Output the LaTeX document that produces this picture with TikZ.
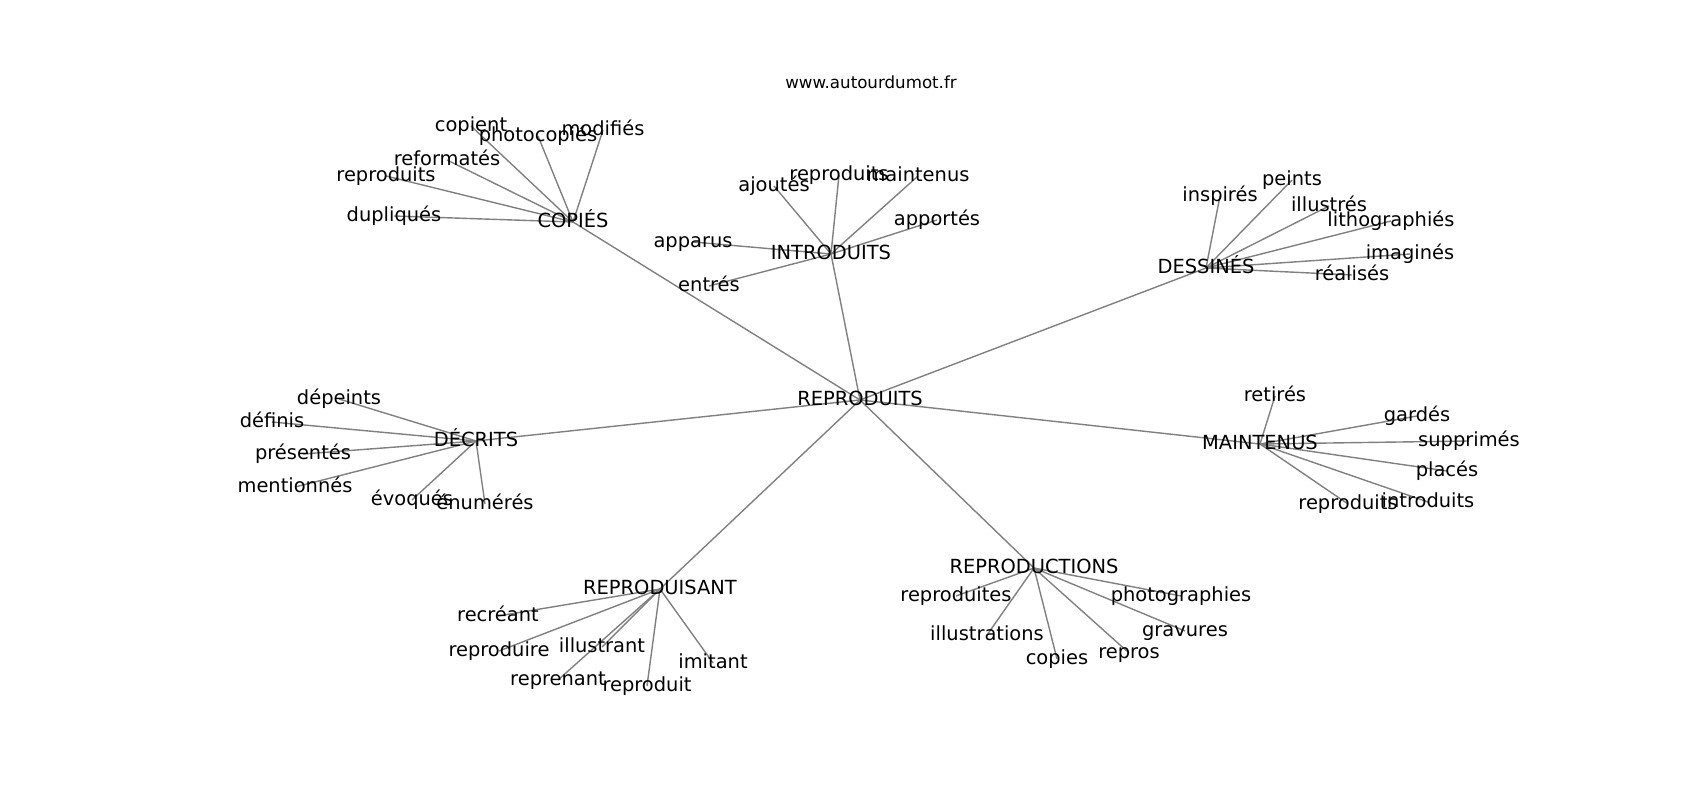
\documentclass[tikz,border=0pt]{standalone}
\usepackage{fontspec}
\setmainfont{DejaVu Sans}
\usetikzlibrary{backgrounds}
\tikzset{
  lbl/.style={inner sep=0pt, text height=14.8pt, text depth=4.6pt, font=\fontsize{19.44}{23}\selectfont, text=black},
  ttl/.style={inner sep=0pt, font=\fontsize{16.67}{20}\selectfont, text=black},
  edge/.style={draw=gray, line width=1.4pt}
}
\begin{document}
\begin{tikzpicture}[x=1pt,y=-1pt]
\useasboundingbox (0,0) rectangle (1700,800);
\node[ttl] (title) at (871,82) {www.autourdumot.fr};
\begin{scope}[yshift=-3pt]
% center
\node[lbl] (c) at (860,397) {REPRODUITS};
% hubs
\node[lbl] (cop) at (573,219) {COPIÉS};
\node[lbl] (int) at (831,251) {INTRODUITS};
\node[lbl] (des) at (1206,265) {DESSINÉS};
\node[lbl] (dec) at (476,438) {DÉCRITS};
\node[lbl] (mai) at (1260,441) {MAINTENUS};
\node[lbl] (rsa) at (660,586) {REPRODUISANT};
\node[lbl] (rct) at (1034,565) {REPRODUCTIONS};
% COPIÉS leaves
\node[lbl] (cop1) at (471,123) {copient};
\node[lbl] (cop2) at (538,133) {photocopiés};
\node[lbl] (cop3) at (603,127) {modifiés};
\node[lbl] (cop4) at (447,157) {reformatés};
\node[lbl] (cop5) at (386,173) {reproduits};
\node[lbl] (cop6) at (394,213) {dupliqués};
% INTRODUITS leaves
\node[lbl] (int1) at (774,183) {ajoutés};
\node[lbl] (int2) at (839,172) {reproduits};
\node[lbl] (int3) at (918,173) {maintenus};
\node[lbl] (int4) at (937,217) {apportés};
\node[lbl] (int5) at (693,239) {apparus};
\node[lbl] (int6) at (709,283) {entrés};
% DESSINÉS leaves
\node[lbl] (des1) at (1220,193) {inspirés};
\node[lbl] (des2) at (1292,177) {peints};
\node[lbl] (des3) at (1329,203) {illustrés};
\node[lbl] (des4) at (1391,218) {lithographiés};
\node[lbl] (des5) at (1410,251) {imaginés};
\node[lbl] (des6) at (1352,272) {réalisés};
% DÉCRITS leaves
\node[lbl] (dec1) at (339,396) {dépeints};
\node[lbl] (dec2) at (272,419) {définis};
\node[lbl] (dec3) at (303,451) {présentés};
\node[lbl] (dec4) at (295,484) {mentionnés};
\node[lbl] (dec5) at (412,497) {évoqués};
\node[lbl] (dec6) at (485,501) {énumérés};
% MAINTENUS leaves
\node[lbl] (mai1) at (1275,393) {retirés};
\node[lbl] (mai2) at (1417,413) {gardés};
\node[lbl] (mai3) at (1469,438) {supprimés};
\node[lbl] (mai4) at (1447,468) {placés};
\node[lbl] (mai5) at (1348,501) {reproduits};
\node[lbl] (mai6) at (1428,499) {introduits};
% REPRODUISANT leaves
\node[lbl] (rsa1) at (498,613) {recréant};
\node[lbl] (rsa2) at (499,648) {reproduire};
\node[lbl] (rsa3) at (602,644) {illustrant};
\node[lbl] (rsa4) at (558,677) {reprenant};
\node[lbl] (rsa5) at (647,683) {reproduit};
\node[lbl] (rsa6) at (713,660) {imitant};
% REPRODUCTIONS leaves
\node[lbl] (rct1) at (956,593) {reproduites};
\node[lbl] (rct2) at (987,632) {illustrations};
\node[lbl] (rct3) at (1057,656) {copies};
\node[lbl] (rct4) at (1129,650) {repros};
\node[lbl] (rct5) at (1185,628) {gravures};
\node[lbl] (rct6) at (1181,593) {photographies};
\end{scope}
\begin{pgfonlayer}{background}
\foreach \h in {cop,int,des,dec,mai,rsa,rct}{
  \draw[edge] (c.center) -- (\h.center);
  \foreach \i in {1,...,6}{
    \draw[edge] (\h.center) -- (\h\i.center);
  }
}
\end{pgfonlayer}
\end{tikzpicture}
\end{document}
